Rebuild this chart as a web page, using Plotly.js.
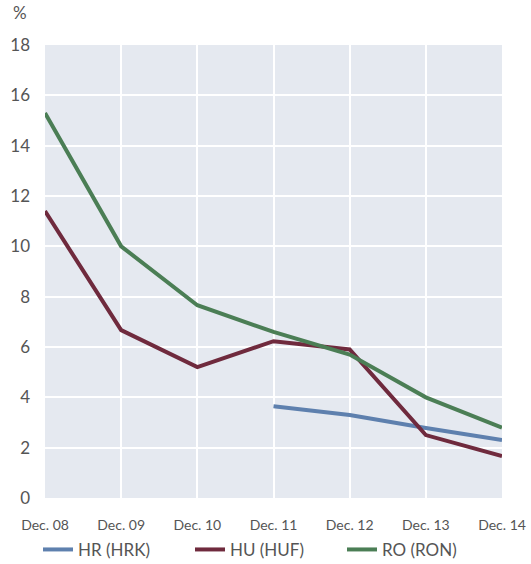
<!DOCTYPE html>
<html><head><meta charset="utf-8">
<script src="https://cdn.plot.ly/plotly-3.0.1.min.js"></script>
<style>html,body{margin:0;padding:0;background:#fff}</style>
</head><body>
<div id="chart" style="width:531px;height:564px"></div>
<script>
var categories = ["Dec. 08","Dec. 09","Dec. 10","Dec. 11","Dec. 12","Dec. 13","Dec. 14"];
var hrValues = [null,null,null,3.65,3.3,2.78,2.3];
var huValues = [11.4,6.67,5.2,6.23,5.9,2.5,1.67];
var roValues = [15.3,10.0,7.66,6.6,5.7,4.0,2.8];
var seriesNames = ["HR (HRK)","HU (HUF)","RO (RON)"];
var yTicks = [0,2,4,6,8,10,12,14,16,18];

var idx = categories.map(function(_,i){return i;});
function tr(name, vals, color){
  return {x: idx, y: vals, name: name, type:'scatter', mode:'lines',
    line:{color:color, width:4}, connectgaps:false};
}
var data = [
  tr(seriesNames[0], hrValues, '#5e80ae'),
  tr(seriesNames[1], huValues, '#6f2a3d'),
  tr(seriesNames[2], roValues, '#4b7e55')
];
var font = {family:'Lato, "Open Sans", sans-serif', color:'#555555'};
var layout = {
  width:531, height:564,
  margin:{l:45, r:29, t:45, b:66, autoexpand:false},
  paper_bgcolor:'#ffffff', plot_bgcolor:'#e5e9f0',
  font: font,
  showlegend:true,
  legend:{orientation:'h', xref:'container', x:38/531, xanchor:'left', yref:'container', y:0.025, yanchor:'middle',
    font:{family:font.family, size:17, color:'#555555'}, entrywidth:107, entrywidthmode:'pixels', tracegroupgap:0},
  xaxis:{range:[0,6], tickvals: idx, ticktext: categories, showgrid:true,
    gridcolor:'#ffffff', gridwidth:2, zeroline:false, showline:false, ticks:'',
    tickfont:{family:font.family, size:14, color:'#555555'}, ticklabelstandoff:17, fixedrange:true},
  yaxis:{range:[0,18], tickvals: yTicks, showgrid:true, gridcolor:'#ffffff', gridwidth:2,
    zeroline:false, showline:false, ticks:'',
    tickfont:{family:font.family, size:17, color:'#555555'}, ticklabelstandoff:14, fixedrange:true},
  annotations:[{text:'%', xref:'paper', yref:'paper', x:-0.075, y:1.045, xanchor:'left', yanchor:'bottom',
    showarrow:false, font:{family:font.family, size:17, color:'#555555'}}]
};
Plotly.newPlot('chart', data, layout, {staticPlot:true, displayModeBar:false});
</script>
</body></html>
